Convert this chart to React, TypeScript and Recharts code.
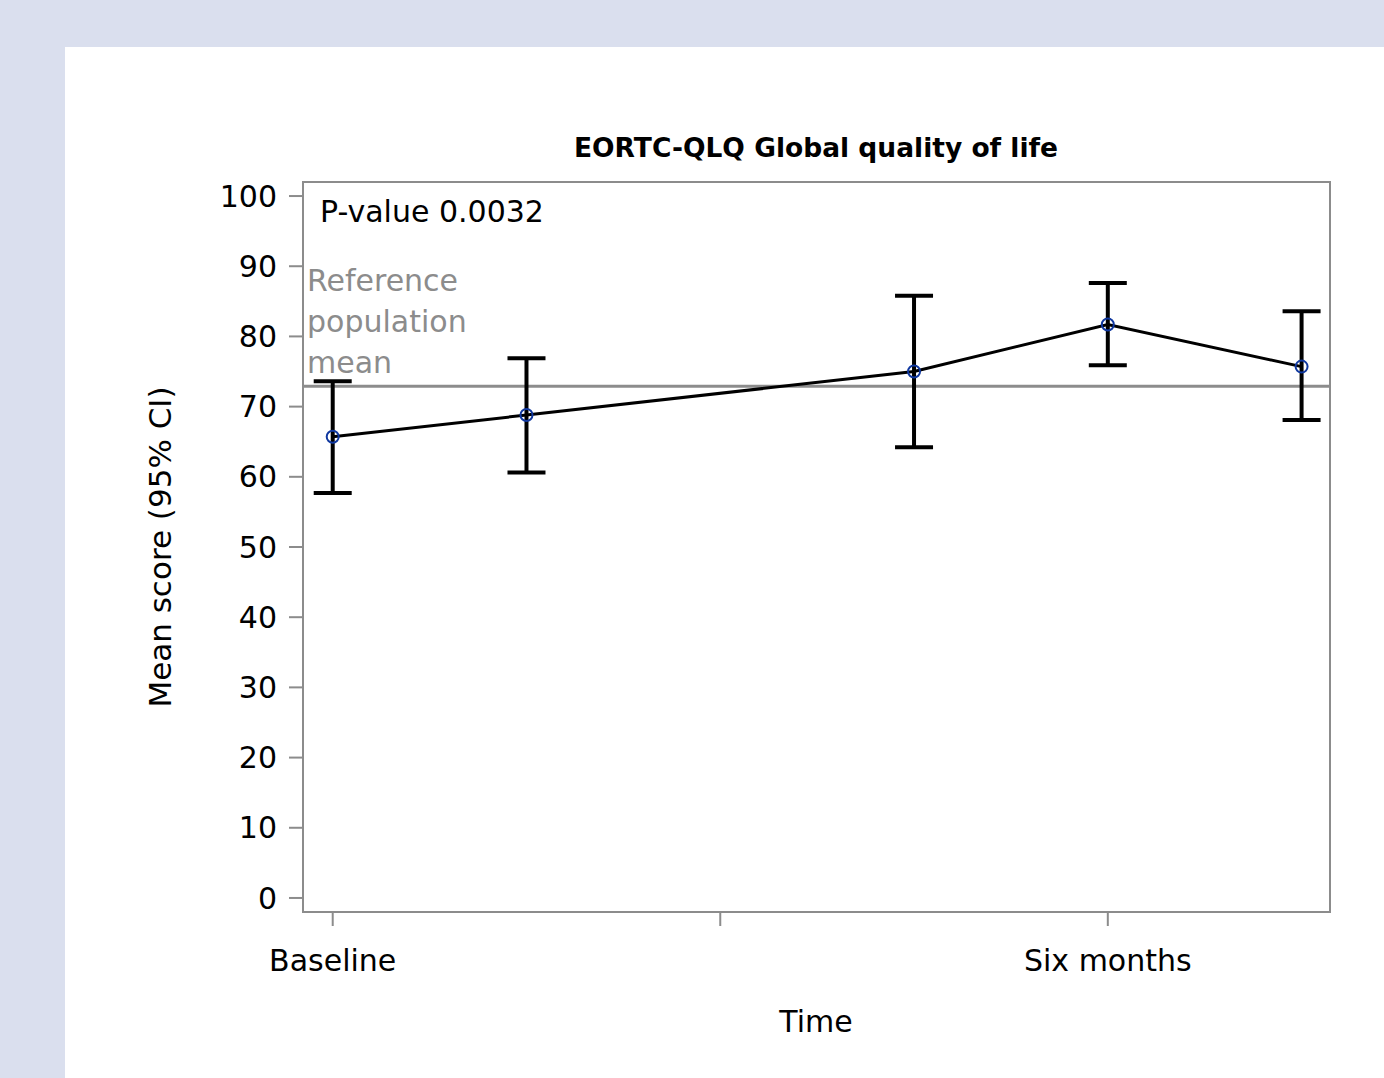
import {
  ComposedChart,
  Line,
  XAxis,
  YAxis,
  ErrorBar,
  ReferenceLine,
  ReferenceArea,
} from "recharts";

// months since baseline
const timePoints = [0, 1.5, 4.5, 6, 7.5];
const meanScores = [65.7, 68.8, 75.0, 81.7, 75.7];
const lowerCI = [57.7, 60.6, 64.2, 75.9, 68.1];
const upperCI = [73.6, 76.9, 85.8, 87.6, 83.6];
const referenceMean = 72.9;

const xTicks = [0, 3, 6];
const xTickLabels = ["Baseline", "", "Six months"];
const yTicks = [0, 10, 20, 30, 40, 50, 60, 70, 80, 90, 100];

const data = timePoints.map((t, i) => ({
  time: t,
  mean: meanScores[i],
  ci: [meanScores[i] - lowerCI[i], upperCI[i] - meanScores[i]],
}));

const FONT = "'DejaVu Sans', sans-serif";
const AXIS_GREY = "#8c8c8c";

const CircleDot = (props: any) => {
  const { cx, cy } = props;
  if (cx == null || cy == null) return null;
  return <circle cx={cx} cy={cy} r={6} fill="none" stroke="#1038a0" strokeWidth={2} />;
};

const textStyle = (left: number, top: number, extra: any = {}) => ({
  position: "absolute" as const,
  left,
  top,
  fontFamily: FONT,
  fontSize: 30,
  color: "#000",
  whiteSpace: "nowrap" as const,
  ...extra,
});

export default function App() {
  return (
    <div
      style={{
        position: "absolute",
        left: 0,
        top: 0,
        width: 1384,
        height: 1078,
        background: "#dadfee",
        overflow: "hidden",
      }}
    >
      <div
        style={{ position: "absolute", left: 65, top: 47, width: 1319, height: 1031, background: "#fff" }}
      />
      <div style={{ position: "absolute", left: 0, top: 0 }}>
        <ComposedChart
          width={1384}
          height={1078}
          data={data}
          margin={{ top: 182, right: 54, bottom: 106, left: 203 }}
        >
          <ReferenceArea
            x1={-0.23}
            x2={7.72}
            y1={-2}
            y2={102}
            fill="none"
            stroke={AXIS_GREY}
            strokeWidth={2}
            ifOverflow="visible"
          />
          <XAxis
            dataKey="time"
            type="number"
            domain={[-0.23, 7.72]}
            ticks={xTicks}
            tickFormatter={(v: number) => xTickLabels[xTicks.indexOf(v)] ?? ""}
            height={60}
            axisLine={false}
            tickSize={14}
            tickMargin={24}
            tickLine={{ stroke: AXIS_GREY, strokeWidth: 2 }}
            tick={{ fill: "#000", fontSize: 30, fontFamily: FONT }}
            allowDataOverflow
          />
          <YAxis
            type="number"
            domain={[-2, 102]}
            ticks={yTicks}
            width={100}
            axisLine={false}
            tickSize={14}
            tickMargin={12}
            tickLine={{ stroke: AXIS_GREY, strokeWidth: 2 }}
            tick={{ fill: "#000", fontSize: 30, fontFamily: FONT }}
            allowDataOverflow
          />
          <ReferenceLine y={referenceMean} stroke={AXIS_GREY} strokeWidth={3} />
          <Line
            dataKey="mean"
            stroke="#000"
            strokeWidth={3}
            dot={<CircleDot />}
            activeDot={false}
            isAnimationActive={false}
          >
            <ErrorBar dataKey="ci" width={19} stroke="#000" strokeWidth={4} direction="y" />
          </Line>
        </ComposedChart>
      </div>
      <div
        style={textStyle(816, 147, {
          transform: "translate(-50%, -50%)",
          fontWeight: 700,
          fontSize: 26.5,
        })}
      >
        EORTC-QLQ Global quality of life
      </div>
      <div style={textStyle(320, 211, { transform: "translateY(-50%)" })}>P-value 0.0032</div>
      <div
        style={textStyle(307, 260, {
          color: AXIS_GREY,
          lineHeight: "41px",
          whiteSpace: "normal",
          width: 200,
        })}
      >
        Reference
        <br />
        population
        <br />
        mean
      </div>
      <div
        style={textStyle(160, 547, {
          transform: "translate(-50%, -50%) rotate(-90deg)",
          fontSize: 31,
        })}
      >
        Mean score (95% CI)
      </div>
      <div style={textStyle(816, 1021, { transform: "translate(-50%, -50%)" })}>Time</div>
    </div>
  );
}
